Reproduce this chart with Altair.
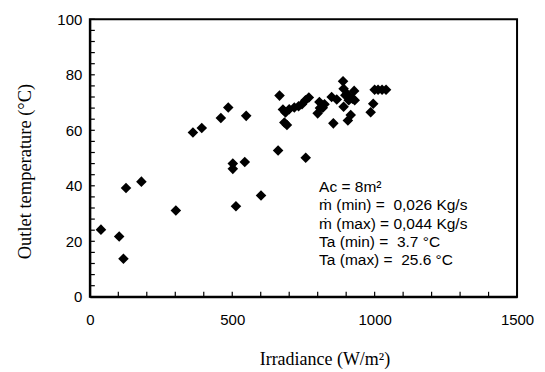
import altair as alt
import pandas as pd

irradiance = [39, 103, 118, 127, 181, 302, 362, 393, 460, 486, 549, 502, 502, 544, 513, 601,
              661, 758, 666, 692, 683, 678, 687, 700, 718, 733, 745, 757, 769, 800, 806, 808,
              818, 824, 855, 849, 867, 889, 891, 897, 891, 903, 909, 906, 912, 916, 922, 928,
              930, 986, 995, 1000, 1012, 1026, 1040]
outlet_temp = [24.2, 21.7, 13.7, 39.2, 41.5, 31.1, 59.2, 60.8, 64.4, 68.2, 65.2, 48.0, 46.1, 48.6, 32.6, 36.5,
               52.7, 50.1, 72.5, 61.9, 62.8, 67.5, 66.4, 67.6, 68.2, 68.7, 69.4, 70.8, 71.8, 66.1, 70.2, 68.0,
               68.1, 69.4, 62.5, 72.0, 71.1, 77.7, 75.0, 72.6, 68.5, 73.2, 70.8, 63.5, 72.0, 65.5, 71.4, 74.2,
               70.8, 66.5, 69.6, 74.6, 74.6, 74.6, 74.6]

x_ticks = list(range(0, 1501, 100))
y_ticks = list(range(0, 101, 4)) + [20, 40, 60, 80, 100]
x_labels = [0, 500, 1000, 1500]
y_labels = [0, 20, 40, 60, 80, 100]

NB = "\u00a0"
note_lines = ["Ac = 8m²", f"ṁ (min) ={NB} 0,026 Kg/s", "ṁ (max) = 0,044 Kg/s",
              f"Ta (min) ={NB} 3.7 °C", f"Ta (max) ={NB} 25.6 °C"]

W, H = 428, 278

df = pd.DataFrame({"irr": irradiance, "temp": outlet_temp})
xt = pd.DataFrame({"xv": x_ticks})
yt = pd.DataFrame({"yv": sorted(set(y_ticks))})
note = pd.DataFrame({"nx": [805], "ny": [39.7], "t": ["\n".join(note_lines)]})

xs = alt.Scale(domain=[0, 1500], nice=False, zero=False)
ys = alt.Scale(domain=[0, 100], nice=False, zero=False)

xaxis = alt.Axis(
    values=x_labels, format="d", title="Irradiance (W/m²)", grid=False, ticks=False,
    labelFont="Liberation Sans", labelFontSize=15, labelPadding=16,
    labelFlush=False, domainColor="black", domainWidth=2,
    titleFont="Liberation Serif", titleFontSize=18, titleFontWeight="normal",
    titleX=235, titleY=63, titleBaseline="middle")
yaxis = alt.Axis(
    values=y_labels, format="d", title="Outlet temperature (°C)", grid=False, ticks=False,
    labelFont="Liberation Sans", labelFontSize=15, labelPadding=8,
    labelFlush=False, domainColor="black", domainWidth=2,
    titleFont="Liberation Serif", titleFontSize=18.5, titleFontWeight="normal",
    titleX=-65, titleY=152, titleBaseline="middle")

xtick_marks = alt.Chart(xt).mark_rule(color="black", strokeWidth=1.2).encode(
    x=alt.X("xv:Q", scale=xs), y=alt.value(H), y2=alt.value(H - 5))
ytick_marks = alt.Chart(yt).mark_rule(color="black", strokeWidth=1.2).encode(
    y=alt.Y("yv:Q", scale=ys), x=alt.value(0), x2=alt.value(5))

points = alt.Chart(df).mark_point(shape="diamond", filled=True, color="black", size=112, opacity=1).encode(
    x=alt.X("irr:Q", scale=xs, axis=xaxis), y=alt.Y("temp:Q", scale=ys, axis=yaxis))

text = alt.Chart(note).mark_text(align="left", baseline="middle", font="Liberation Sans",
                                 fontSize=15.5, lineHeight=18.5, lineBreak="\n", color="black").encode(
    x=alt.X("nx:Q", scale=xs), y=alt.Y("ny:Q", scale=ys), text="t:N")

chart = alt.layer(xtick_marks, ytick_marks, points, text).properties(
    width=W, height=H,
    background="white",
    autosize=alt.AutoSizeParams(type="pad"),
    padding={"left": 16, "top": 12, "right": 11, "bottom": 2},
).configure_view(stroke="black", strokeWidth=2)

chart.save("out.html", embed_options={"renderer": "svg", "actions": False})
